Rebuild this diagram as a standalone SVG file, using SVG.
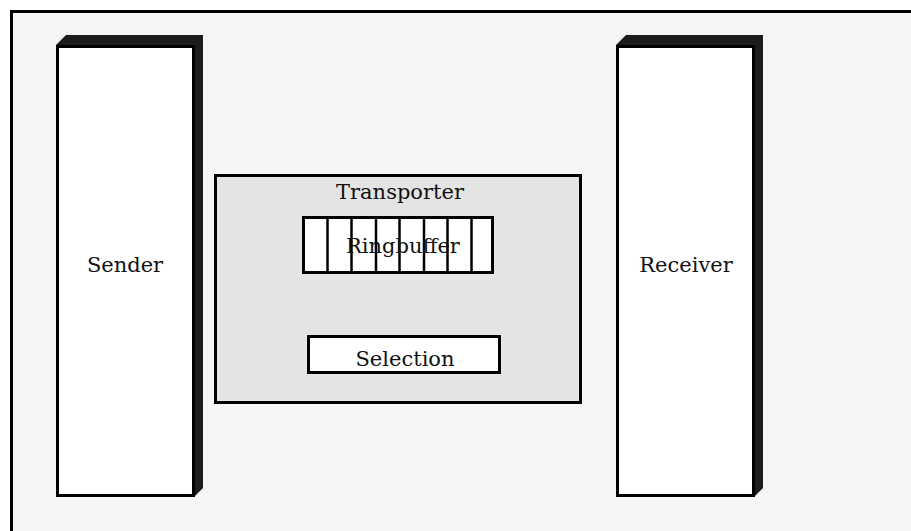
<svg xmlns="http://www.w3.org/2000/svg" width="911" height="531" viewBox="0 0 911 531">
<style>
.lbl{font-family:"DejaVu Serif","Liberation Serif",serif;font-size:21px;fill:#111;text-anchor:middle}
.front{fill:#fff;stroke:#000;stroke-width:3}
.side{fill:#1c1c1c}
.box{fill:#fff;stroke:#000;stroke-width:3}
.div{stroke:#000;stroke-width:2.5}
</style>
<rect x="0" y="0" width="911" height="531" fill="#fff"/>
<rect x="11.5" y="11.5" width="1000" height="1000" fill="#f6f6f6" stroke="#000" stroke-width="3"/>
<g id="sender">
<polygon class="side" points="56,45 66,35 203,35 203,488 194,497"/>
<rect class="front" x="57.5" y="46.5" width="136" height="449"/>
<text class="lbl" x="125" y="272">Sender</text>
</g>
<g id="receiver">
<polygon class="side" points="616,45 626,35 763,35 763,488 754,497"/>
<rect class="front" x="617.5" y="46.5" width="136" height="449"/>
<text class="lbl" x="686" y="272">Receiver</text>
</g>
<g id="transporter">
<rect x="215.5" y="175.5" width="365" height="227" fill="#e4e4e4" stroke="#000" stroke-width="3"/>
<text class="lbl" x="400" y="199">Transporter</text>
</g>
<g id="ringbuffer">
<rect class="box" x="303.5" y="217.5" width="189" height="55"/>
<line class="div" x1="327.5" y1="217" x2="327.5" y2="273"/>
<line class="div" x1="351.5" y1="217" x2="351.5" y2="273"/>
<line class="div" x1="376" y1="217" x2="376" y2="273"/>
<line class="div" x1="399.5" y1="217" x2="399.5" y2="273"/>
<line class="div" x1="424" y1="217" x2="424" y2="273"/>
<line class="div" x1="447.5" y1="217" x2="447.5" y2="273"/>
<line class="div" x1="471.5" y1="217" x2="471.5" y2="273"/>
<text class="lbl" x="403" y="253">Ringbuffer</text>
</g>
<g id="selection">
<rect class="box" x="308.5" y="336.5" width="191" height="36"/>
<text class="lbl" x="405" y="366">Selection</text>
</g>
<g id="connectors"></g>
</svg>
